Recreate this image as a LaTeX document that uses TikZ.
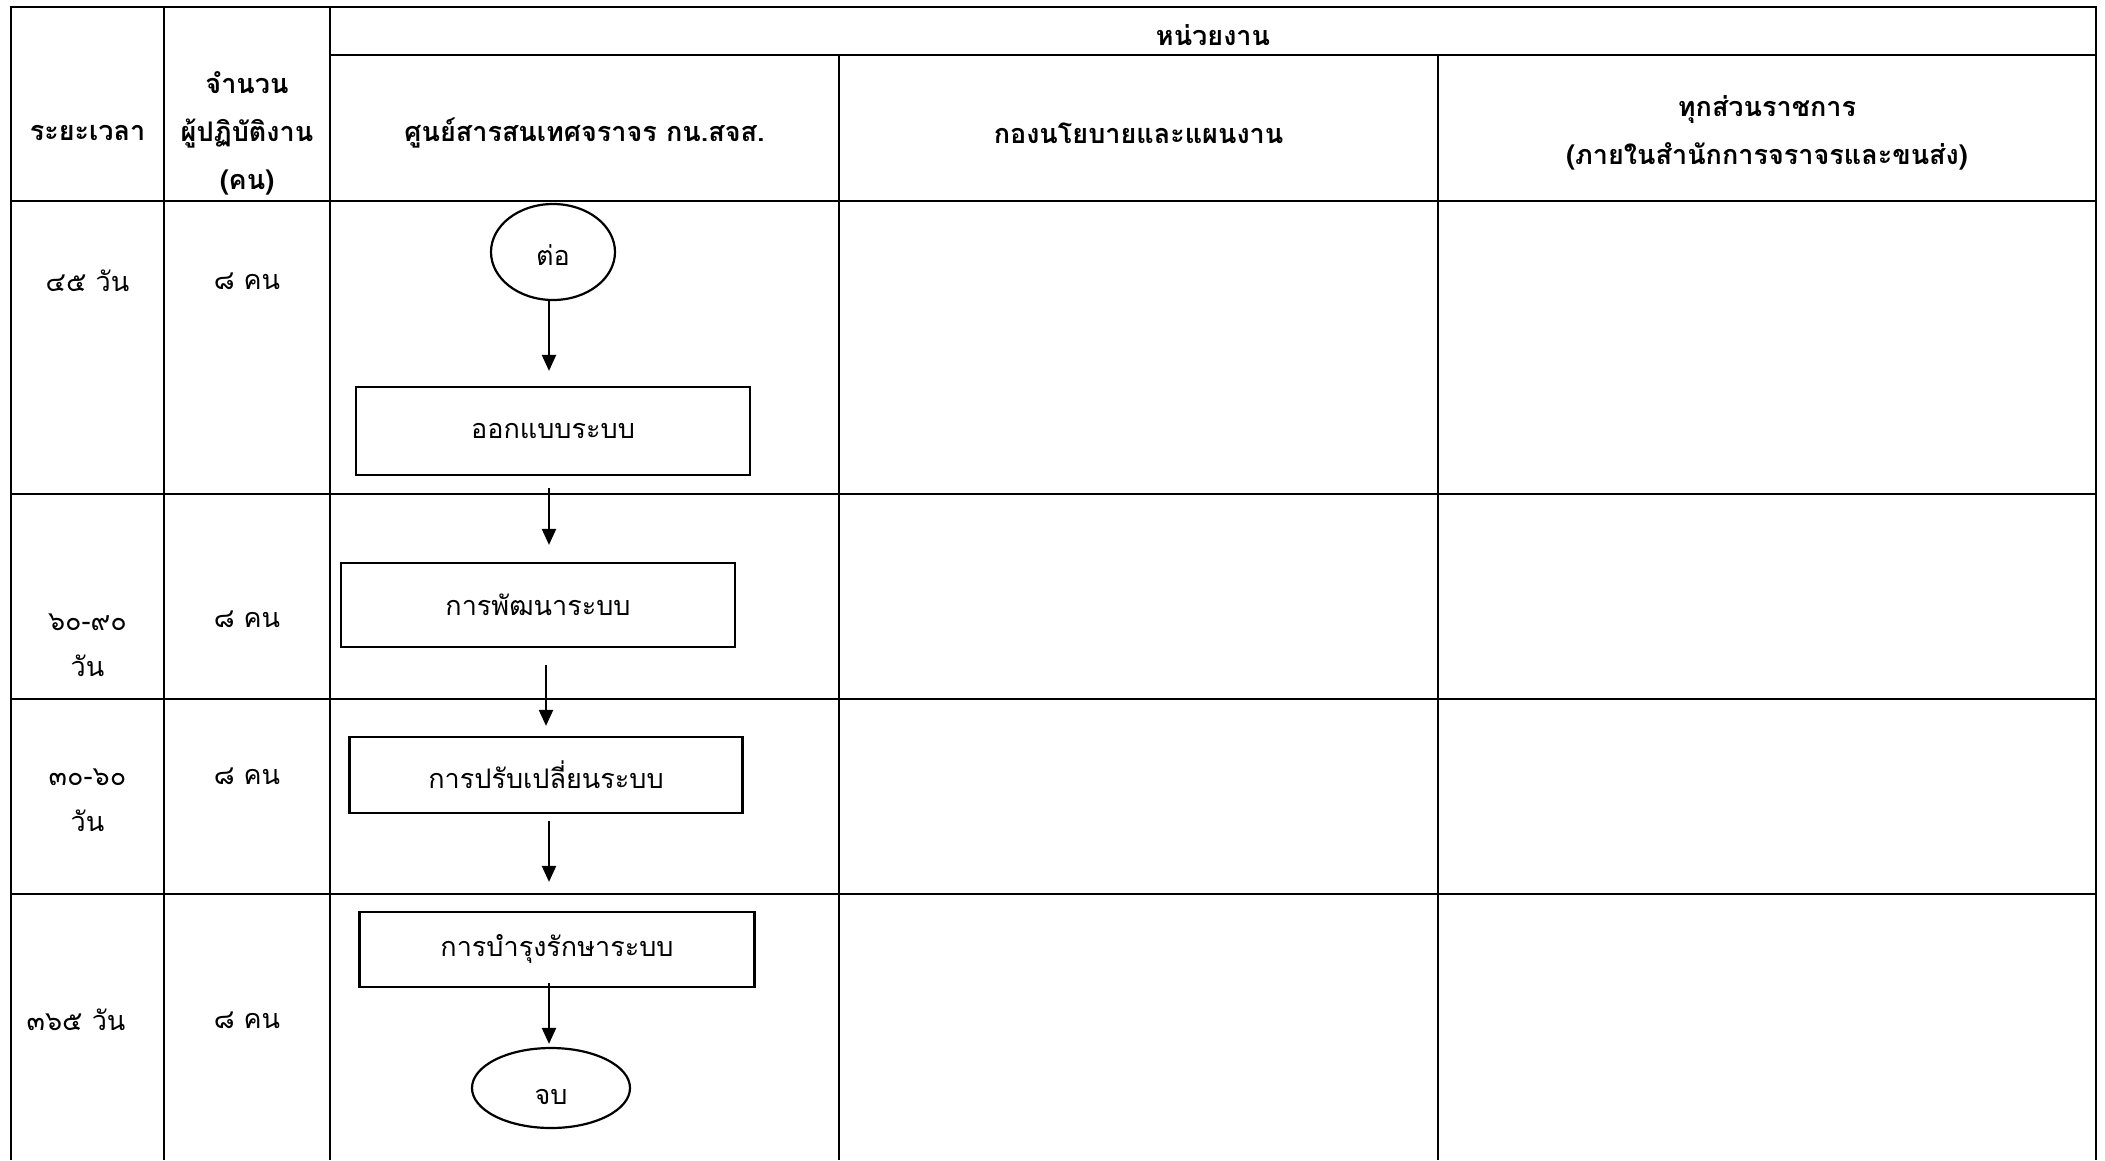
\documentclass[tikz,border=0pt]{standalone}
\usepackage{fontspec}
\newfontfamily\thai[Script=Thai]{Loma}
\usetikzlibrary{shapes.geometric,arrows.meta}
\tikzset{
  grid/.style={line width=1.6pt},
  hdr/.style={font=\thai\bfseries\fontsize{27}{48}\selectfont, align=center, inner sep=0pt},
  cell/.style={font=\thai\fontsize{27}{46}\selectfont, align=center, inner sep=0pt},
  procbox/.style={draw, line width=2.2pt, rectangle, inner sep=0pt, font=\thai\fontsize{27}{46}\selectfont},
  terminal/.style={draw, line width=2.2pt, ellipse, inner sep=0pt},
  arr/.style={line width=2.2pt, -{Triangle[length=16pt,width=14pt]}}
}
\begin{document}
\begin{tikzpicture}[x=1pt,y=-1pt]
\useasboundingbox (0,0) rectangle (2105,1160);
% table grid
\draw[grid] (11,1160) -- (11,7) -- (2096,7) -- (2096,1160);
\draw[grid] (164,7) -- (164,1160);
\draw[grid] (330,7) -- (330,1160);
\draw[grid] (839,55) -- (839,1160);
\draw[grid] (1438,55) -- (1438,1160);
\draw[grid] (330,55) -- (2096,55);
\foreach \yy in {201,494,699,894} \draw[grid] (11,\yy) -- (2096,\yy);
% headers
\node[hdr] (h0) at (87.5,133) {ระยะเวลา};
\node[hdr] (h1) at (247,133) {จำนวน\\ผู้ปฏิบัติงาน\\(คน)};
\node[hdr] (h2) at (1213,35) {หน่วยงาน};
\node[hdr] (h3) at (584.5,133) {ศูนย์สารสนเทศจราจร กน.สจส.};
\node[hdr] (h4) at (1138.5,133) {กองนโยบายและแผนงาน};
\node[hdr] (h5) at (1767,133) {ทุกส่วนราชการ\\(ภายในสำนักการจราจรและขนส่ง)};
% row labels
\node[cell] (t1) at (87.5,281) {๔๕ วัน};
\node[cell] (p1) at (247,281) {๘ คน};
\node[cell] (t2) at (87.5,645) {๖๐-๙๐\\วัน};
\node[cell] (p2) at (247,619) {๘ คน};
\node[cell] (t3) at (87.5,800) {๓๐-๖๐\\วัน};
\node[cell] (p3) at (247,776) {๘ คน};
\node[cell] (t4) at (76,1020) {๓๖๕ วัน};
\node[cell] (p4) at (247,1020) {๘ คน};
% flow
\node[terminal, minimum width=124pt, minimum height=96pt] (start) at (553,252) {};
\node[cell] (startlbl) at (553,255) {ต่อ};
\node[procbox, minimum width=394pt, minimum height=88pt] (b1) at (553,431) {ออกแบบระบบ};
\node[procbox, minimum width=394pt, minimum height=84pt] (b2) at (538,605) {การพัฒนาระบบ};
\node[procbox, minimum width=393pt, minimum height=76pt] (b3) at (546,775) {การปรับเปลี่ยนระบบ};
\node[procbox, minimum width=395pt, minimum height=75pt] (b4) at (557,949.5) {การบำรุงรักษาระบบ};
\node[terminal, minimum width=158pt, minimum height=80pt] (stop) at (551,1088) {};
\node[cell] (stoplbl) at (551,1097) {จบ};
\coordinate (ax) at (549,0);
\coordinate (bx) at (546,0);
\draw[arr, shorten >=15pt] (start.south -| ax) -- (b1.north -| ax);
\draw[arr, shorten <=12pt, shorten >=17pt] (b1.south -| ax) -- (b2.north -| ax);
\draw[arr, shorten <=17pt, shorten >=10pt] (b2.south -| bx) -- (b3.north -| bx);
\draw[arr, shorten <=7pt, shorten >=29pt] (b3.south -| ax) -- (b4.north -| ax);
\draw[arr, shorten <=-5pt, shorten >=3pt] (b4.south -| ax) -- (stop.north -| ax);
\end{tikzpicture}
\end{document}
